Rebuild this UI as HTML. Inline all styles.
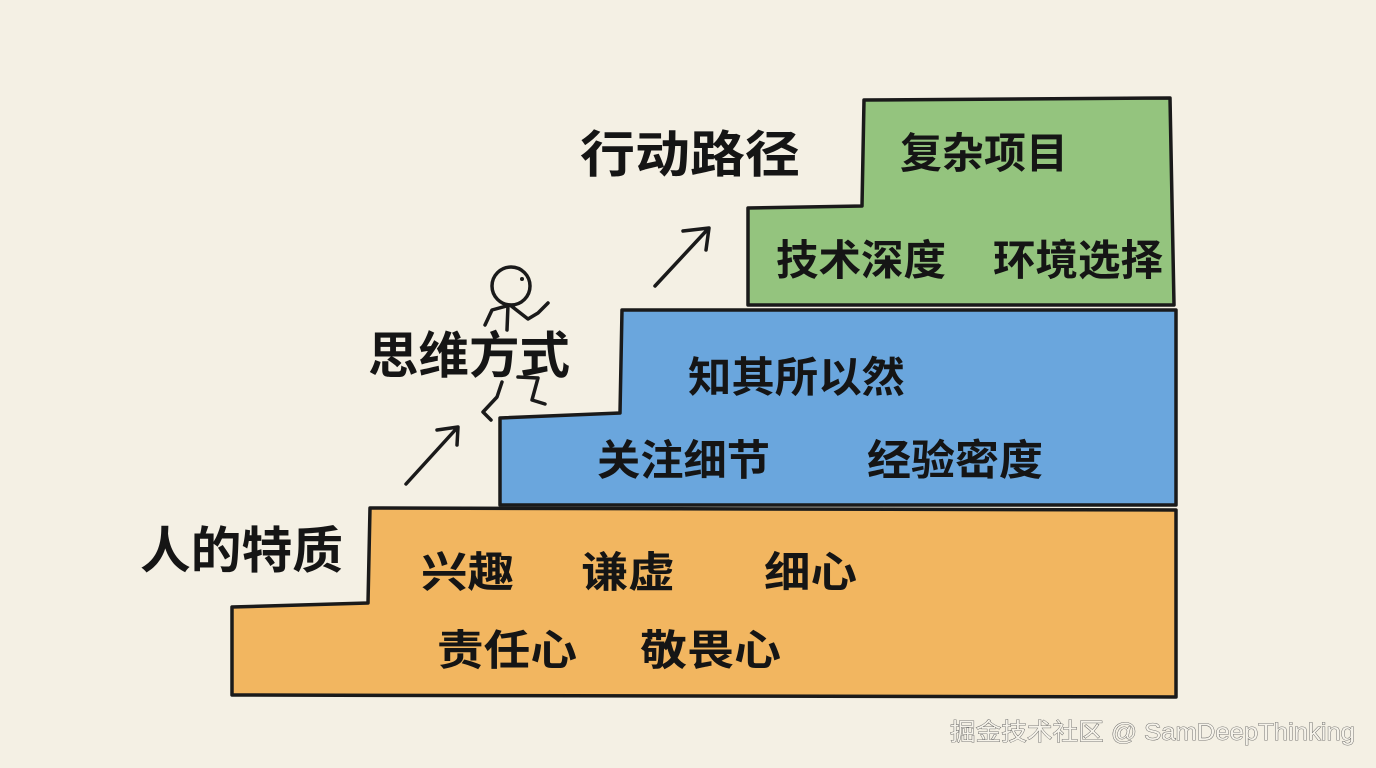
<!DOCTYPE html>
<html><head><meta charset="utf-8"><style>
html,body{margin:0;padding:0;background:#f4f0e4;}
svg{display:block}
text{font-family:"Liberation Sans","Noto Sans CJK SC",sans-serif;font-weight:bold;fill:#151515;}
</style></head><body>
<svg width="1376" height="768" viewBox="0 0 1376 768" xmlns="http://www.w3.org/2000/svg">
<rect width="1376" height="768" fill="#f4f0e4"/>
<g stroke="#1a1a1a" stroke-width="3.5" stroke-linejoin="round" stroke-linecap="round">
<path d="M232,607 L368,603 L370,508 L1176,510 L1176,697 L232,695 Z" fill="#f2b660"/>
<path d="M500,418 L620,413 L622,310 L1176,310 L1176,505 L500,505 Z" fill="#6aa6dd"/>
<path d="M748,208 L862,206 L864,100 L1170,98 L1174,305 L748,305 Z" fill="#94c47e"/>
</g>
<g stroke="#1a1a1a" stroke-width="3.5" fill="none" stroke-linecap="round" stroke-linejoin="round">
<path d="M406,484 L457,428 M437,430 L458,427 L457,445"/>
<path d="M655,286 L708,229 M683,231 L709,228 L706,250"/>
<circle cx="511" cy="286" r="19"/>
<path d="M508,305 L507,330"/>
<path d="M485,325 L492,310 L510,305 L528,319 L538,313 L548,303"/>
<path d="M502,382 L497,397 L483,412 L491,420"/>
<path d="M518,377 L538,378 L532,400 L545,404"/>
</g>
<circle cx="522" cy="279" r="2" fill="#1a1a1a"/>
<g font-size="50" lengthAdjust="spacingAndGlyphs">
<text x="580" y="172" textLength="220" lengthAdjust="spacingAndGlyphs">行动路径</text>
<text x="368" y="373" textLength="202" lengthAdjust="spacingAndGlyphs">思维方式</text>
<text x="140" y="568" textLength="203" lengthAdjust="spacingAndGlyphs">人的特质</text>
</g>
<g font-size="42">
<text x="900" y="168" textLength="168" lengthAdjust="spacingAndGlyphs">复杂项目</text>
<text x="776" y="275" textLength="170" lengthAdjust="spacingAndGlyphs">技术深度</text>
<text x="993" y="275" textLength="170" lengthAdjust="spacingAndGlyphs">环境选择</text>
<text x="688" y="392" textLength="217" lengthAdjust="spacingAndGlyphs">知其所以然</text>
<text x="597" y="475" textLength="173" lengthAdjust="spacingAndGlyphs">关注细节</text>
<text x="867" y="475" textLength="176" lengthAdjust="spacingAndGlyphs">经验密度</text>
<text x="421" y="587" textLength="93" lengthAdjust="spacingAndGlyphs">兴趣</text>
<text x="581" y="587" textLength="94" lengthAdjust="spacingAndGlyphs">谦虚</text>
<text x="764" y="587" textLength="93" lengthAdjust="spacingAndGlyphs">细心</text>
<text x="437" y="665" textLength="140" lengthAdjust="spacingAndGlyphs">责任心</text>
<text x="640" y="665" textLength="141" lengthAdjust="spacingAndGlyphs">敬畏心</text>
</g>
<text x="950" y="740" font-size="24" textLength="405" lengthAdjust="spacingAndGlyphs" style="font-weight:normal;fill:#f6f3ea;stroke:#555;stroke-width:0.8;paint-order:stroke">掘金技术社区 @ SamDeepThinking</text>
</svg>
</body></html>
